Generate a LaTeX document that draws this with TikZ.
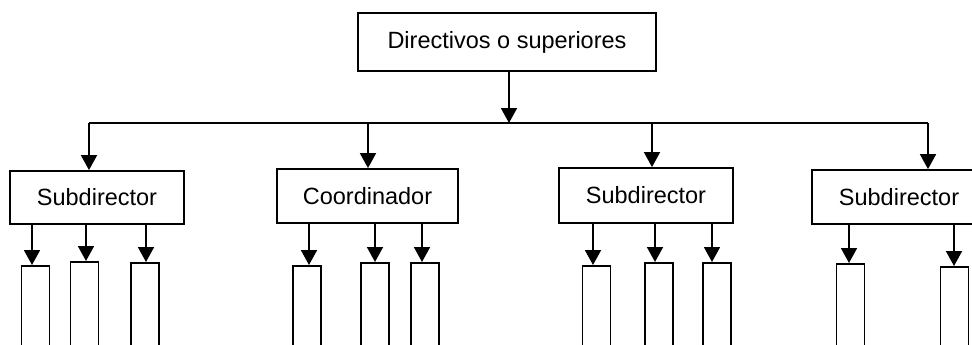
\documentclass[tikz,border=0pt]{standalone}
\usepackage{fontspec}
\setmainfont{Liberation Sans}
\usetikzlibrary{arrows.meta}
\begin{document}
\begin{tikzpicture}[x=1pt,y=-1pt,
  box/.style={draw,line width=1.8pt,rectangle,inner sep=0pt,font=\fontsize{23.5}{26}\selectfont},
  leaf/.style={draw,line width=1.8pt,rectangle,inner sep=0pt,minimum width=28pt,minimum height=110pt,anchor=north},
  arr/.style={line width=1.8pt,-{Triangle[width=16pt,length=15pt]}},
  ln/.style={line width=1.8pt}]
\useasboundingbox (0,0) rectangle (972,345);
\clip (0,0) rectangle (972,345);
\node[box,minimum width=298pt,minimum height=58pt] (top) at (507,42) {Directivos o superiores};
\node[box,minimum width=174pt,minimum height=53pt] (s1) at (97,197.5) {Subdirector};
\node[box,minimum width=181pt,minimum height=54pt] (co) at (367.5,196) {Coordinador};
\node[box,minimum width=174pt,minimum height=55pt] (s3) at (646,195.5) {Subdirector};
\node[box,minimum width=174pt,minimum height=54pt] (s4) at (899,197) {Subdirector};
\coordinate (hl) at (89,123);
\coordinate (hm) at (509,123);
\coordinate (hr) at (928,123);
\draw[ln] (hl) -- (hr);
\draw[arr] (top.south -| hm) -- (hm);
\draw[arr] (hl) -- (hl |- s1.north);
\draw[arr] (368,123) -- (368,123 |- co.north);
\draw[arr] (652,123) -- (652,123 |- s3.north);
\draw[arr] (hr) -- (hr |- s4.north);
% leaves
\node[leaf] (a1) at (35.5,265) {};
\node[leaf] (a2) at (84.5,261) {};
\node[leaf] (a3) at (145,262) {};
\node[leaf] (b1) at (307,265) {};
\node[leaf] (b2) at (375,262) {};
\node[leaf] (b3) at (425,262) {};
\node[leaf] (c1) at (596.5,265) {};
\node[leaf] (c2) at (659,262) {};
\node[leaf] (c3) at (717,262) {};
\node[leaf] (d1) at (850.5,263) {};
\node[leaf] (d2) at (954.5,266) {};
\draw[arr] (32,0 |- s1.south) -- (32,0 |- a1.north);
\draw[arr] (86,0 |- s1.south) -- (86,0 |- a2.north);
\draw[arr] (146,0 |- s1.south) -- (146,0 |- a3.north);
\draw[arr] (309,0 |- co.south) -- (309,0 |- b1.north);
\draw[arr] (375,0 |- co.south) -- (375,0 |- b2.north);
\draw[arr] (422,0 |- co.south) -- (422,0 |- b3.north);
\draw[arr] (593,0 |- s3.south) -- (593,0 |- c1.north);
\draw[arr] (655,0 |- s3.south) -- (655,0 |- c2.north);
\draw[arr] (712,0 |- s3.south) -- (712,0 |- c3.north);
\draw[arr] (849,0 |- s4.south) -- (849,0 |- d1.north);
\draw[arr] (954,0 |- s4.south) -- (954,0 |- d2.north);
\end{tikzpicture}
\end{document}
